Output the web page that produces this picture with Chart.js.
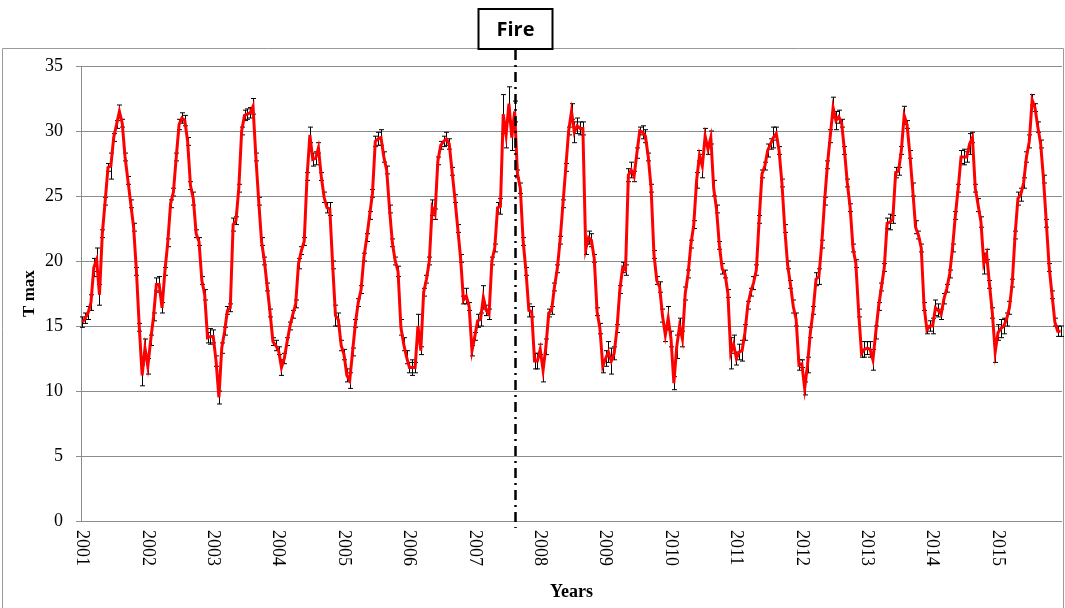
<!DOCTYPE html>
<html>
<head>
<meta charset="utf-8">
<script src="https://cdn.jsdelivr.net/npm/chart.js@4.4.0/dist/chart.umd.min.js"></script>
<style>
  html, body { margin: 0; padding: 0; background: #fff; }
  #wrap { width: 1065px; height: 608px; }
</style>
</head>
<body>
<div id="wrap"><canvas id="tmaxChart" width="1065" height="608"></canvas></div>
<script>
// 23 composites per year (16-day)
var years = [2001, 2002, 2003, 2004, 2005, 2006, 2007, 2008, 2009, 2010, 2011, 2012, 2013, 2014, 2015];

var t2001 = [15.3,15.6,16.0,16.8,19.5,20.1,17.4,22.1,24.6,27.2,27.3,29.5,30.5,31.5,30.6,28.0,26.2,24.4,22.6,19.2,14.9,11.2,13.3];
var t2002 = [11.9,13.9,15.7,18.2,18.2,16.4,19.2,21.4,24.4,25.3,28.0,30.5,31.0,30.8,29.2,25.8,24.8,22.1,21.5,18.5,17.4,14.1,14.2];
var t2003 = [14.2,12.3,9.5,13.3,14.6,16.2,16.4,22.8,23.1,25.6,30.0,31.2,31.3,31.4,31.9,28.0,24.6,21.5,20.0,18.0,16.0,13.8,13.5];
var t2004 = [13.1,11.8,12.5,13.8,15.0,15.9,16.7,19.8,20.8,21.5,26.5,29.7,27.8,27.9,28.7,26.5,24.9,24.1,24.0,19.7,15.8,15.5,13.5];
var t2005 = [12.8,11.2,10.8,13.0,15.2,16.8,17.8,20.3,21.8,23.5,25.2,29.2,29.4,29.5,28.0,27.0,24.0,21.4,20.0,19.2,14.9,13.6,12.6];
var t2006 = [11.8,11.8,11.8,15.0,13.1,17.6,18.6,20.0,24.1,23.6,27.7,28.9,29.2,29.4,29.0,26.9,24.8,22.5,20.2,17.0,17.3,16.5,13.1];
var t2007 = [14.2,15.4,15.5,17.2,16.2,15.9,20.0,21.0,24.1,24.2,31.3,29.7,32.1,29.5,31.5,26.7,25.6,21.5,19.2,16.2,16.1,12.3,12.3];
var t2008 = [13.2,11.6,13.4,16.0,16.2,18.0,19.4,21.6,24.4,27.2,30.0,31.5,29.9,30.4,30.2,30.2,20.9,21.8,21.6,20.2,16.1,14.8,11.9];
var t2009 = [12.5,13.0,12.3,12.9,14.8,17.8,19.5,19.3,26.6,27.0,26.5,28.3,30.0,29.9,29.6,28.0,25.6,20.5,18.5,18.0,15.8,14.3,15.6];
var t2010 = [14.0,10.6,13.4,15.0,14.0,17.5,19.0,21.3,22.8,26.2,28.1,27.3,29.6,28.6,29.5,25.6,24.0,21.2,19.4,19.0,17.5,12.9,13.6];
var t2011 = [12.5,13.0,13.1,14.5,16.6,17.6,18.3,19.3,23.2,26.7,27.3,28.5,29.0,29.5,29.8,28.5,26.0,22.5,19.7,18.2,16.5,15.5,12.0];
var t2012 = [12.1,10.2,12.0,14.5,16.2,18.6,18.8,21.3,24.6,27.4,29.6,31.8,30.8,31.1,30.6,28.5,26.0,24.1,21.0,19.8,16.0,12.9,13.2];
var t2013 = [13.3,13.2,12.4,14.5,16.5,18.0,19.5,22.9,23.0,23.2,26.8,26.9,28.5,31.2,30.5,28.2,25.5,22.6,22.0,21.0,16.5,14.7,15.0];
var t2014 = [15.0,16.4,16.2,15.9,17.1,17.9,19.0,21.0,23.5,25.6,28.0,28.0,28.0,29.0,29.5,25.6,24.3,23.0,19.8,20.5,18.2,16.0,13.0];
var t2015 = [14.5,14.8,15.0,15.5,16.4,18.3,22.0,24.8,25.1,26.0,28.0,29.2,32.4,31.8,30.3,29.0,26.3,22.9,19.5,17.4,15.3,14.6,14.6];

// half-length of the error bars
var e2001 = [0.4,0.4,0.5,0.6,0.7,0.9,0.8,0.3,0.3,0.3,1.0,0.3,0.3,0.5,0.3,0.3,0.3,0.3,0.3,0.3,0.3,0.8,0.7];
var e2002 = [0.6,0.4,0.3,0.5,0.6,0.4,0.3,0.3,0.3,0.3,0.3,0.4,0.4,0.4,0.3,0.3,0.5,0.3,0.3,0.3,0.4,0.4,0.6];
var e2003 = [0.5,0.4,0.5,0.4,0.3,0.3,0.3,0.5,0.3,0.3,0.3,0.4,0.4,0.4,0.6,0.3,0.3,0.3,0.3,0.3,0.3,0.3,0.4];
var e2004 = [0.3,0.6,0.4,0.3,0.3,0.3,0.3,0.4,0.3,0.3,0.3,0.6,0.5,0.5,0.4,0.3,0.4,0.4,0.5,0.3,0.8,0.5,0.4];
var e2005 = [0.4,0.5,0.6,0.3,0.3,0.3,0.3,0.3,0.3,0.3,0.3,0.4,0.5,0.6,0.4,0.3,0.3,0.3,0.3,0.4,0.6,0.5,0.5];
var e2006 = [0.4,0.6,0.4,0.9,0.3,0.3,0.3,0.3,0.6,0.4,0.3,0.3,0.4,0.5,0.4,0.3,0.3,0.3,0.3,0.3,0.6,0.3,0.4];
var e2007 = [0.3,0.5,0.5,0.9,0.4,0.4,0.3,0.3,0.4,0.6,1.5,1.0,1.3,1.0,0.8,0.3,0.4,0.3,0.3,0.5,0.4,0.6,0.6];
var e2008 = [0.4,0.9,0.6,0.3,0.3,0.3,0.3,0.3,0.3,0.3,0.3,0.6,0.8,0.6,0.5,0.5,0.4,0.5,0.5,0.3,0.3,0.4,0.5];
var e2009 = [0.6,0.8,1.0,0.5,0.3,0.3,0.4,0.4,0.5,0.6,0.4,0.4,0.3,0.5,0.5,0.3,0.3,0.3,0.3,0.4,0.5,0.5,0.9];
var e2010 = [0.6,0.5,0.9,0.6,0.6,0.5,0.3,0.3,0.3,0.6,0.4,0.9,0.6,0.4,0.5,0.6,0.3,0.3,0.4,0.3,0.3,1.2,0.7];
var e2011 = [0.5,0.6,0.8,0.6,0.3,0.3,0.5,0.4,0.3,0.3,0.3,0.5,0.4,0.8,0.5,0.3,0.3,0.3,0.3,0.3,0.5,0.5,0.4];
var e2012 = [0.3,0.5,0.6,0.4,0.3,0.5,0.6,0.3,0.3,0.3,0.5,0.8,0.7,0.5,0.3,0.3,0.3,0.3,0.3,0.3,0.3,0.3,0.6];
var e2013 = [0.5,0.6,0.8,0.5,0.3,0.3,0.3,0.4,0.6,0.3,0.4,0.3,0.3,0.7,0.3,0.3,0.5,0.5,0.3,0.3,0.3,0.3,0.4];
var e2014 = [0.6,0.6,0.5,0.4,0.4,0.3,0.3,0.3,0.3,0.3,0.5,0.6,0.4,0.8,0.4,0.3,0.5,0.4,0.8,0.4,0.3,0.4,0.8];
var e2015 = [0.6,0.7,0.6,0.5,0.5,0.3,0.3,0.5,0.5,0.4,0.4,0.5,0.4,0.3,0.4,0.3,0.3,0.3,0.3,0.3,0.3,0.4,0.4];

var yTicks = [0, 5, 10, 15, 20, 25, 30, 35];
var fireYear = 2007.64;
var fireLabel = 'Fire';
var xTitle = 'Years';
var yTitle = 'T max';

var tByYear = [t2001, t2002, t2003, t2004, t2005, t2006, t2007, t2008, t2009, t2010, t2011, t2012, t2013, t2014, t2015];
var eByYear = [e2001, e2002, e2003, e2004, e2005, e2006, e2007, e2008, e2009, e2010, e2011, e2012, e2013, e2014, e2015];

var points = [];
var errs = [];
years.forEach(function(yr, k) {
  tByYear[k].forEach(function(v, i) {
    points.push({ x: yr + (i + 0.5) / tByYear[k].length, y: v });
    errs.push(eByYear[k][i]);
  });
});

var serif = "'Liberation Serif', 'Times New Roman', serif";

var decor = {
  id: 'decor',
  beforeDraw: function(chart) {
    var c = chart.ctx;
    c.save();
    c.strokeStyle = '#9a9a9a';
    c.lineWidth = 1;
    c.beginPath();
    c.moveTo(2.5, 608);
    c.lineTo(2.5, 48.5);
    c.lineTo(1063.5, 48.5);
    c.lineTo(1063.5, 608);
    c.stroke();
    c.restore();
  },
  beforeDatasetsDraw: function(chart) {
    var c = chart.ctx, xs = chart.scales.x, ys = chart.scales.y;
    c.save();
    c.strokeStyle = '#000';
    c.lineWidth = 1;
    c.beginPath();
    points.forEach(function(p, i) {
      var px = Math.round(xs.getPixelForValue(p.x)) + 0.5;
      var top = ys.getPixelForValue(p.y + errs[i]);
      var bot = ys.getPixelForValue(p.y - errs[i]);
      c.moveTo(px, top); c.lineTo(px, bot);
      c.moveTo(px - 2.5, top); c.lineTo(px + 2.5, top);
      c.moveTo(px - 2.5, bot); c.lineTo(px + 2.5, bot);
    });
    c.stroke();
    c.restore();
  },
  afterDraw: function(chart) {
    var c = chart.ctx, xs = chart.scales.x, area = chart.chartArea;
    c.save();
    // year labels, reading top to bottom
    c.fillStyle = '#000';
    c.font = '18px ' + serif;
    c.textAlign = 'left';
    c.textBaseline = 'middle';
    years.forEach(function(yr) {
      c.save();
      c.translate(xs.getPixelForValue(yr) + 1, area.bottom + 9);
      c.rotate(Math.PI / 2);
      c.fillText(String(yr), 0, 0);
      c.restore();
    });
    // axis titles
    c.font = 'bold 18px ' + serif;
    c.textAlign = 'center';
    c.fillText(xTitle, (area.left + area.right) / 2, 592);
    c.save();
    c.translate(30, (area.top + area.bottom) / 2);
    c.rotate(-Math.PI / 2);
    c.font = 'bold 17px ' + serif;
    c.fillText(yTitle, 0, 0);
    c.restore();
    // fire marker
    var fx = Math.round(xs.getPixelForValue(fireYear)) + 0.5;
    c.strokeStyle = '#000';
    c.lineWidth = 2.5;
    c.setLineDash([10, 5, 2, 5]);
    c.beginPath();
    c.moveTo(fx, 50);
    c.lineTo(fx, area.bottom + 7);
    c.stroke();
    c.setLineDash([]);
    c.fillStyle = '#fff';
    c.fillRect(fx - 37, 9, 74, 40);
    c.lineWidth = 2;
    c.strokeRect(fx - 37, 9, 74, 40);
    c.fillStyle = '#000';
    c.font = "bold 20px 'Open Sans', 'Liberation Sans', sans-serif";
    c.textBaseline = 'middle';
    c.fillText(fireLabel, fx, 30);
    c.restore();
  }
};

var ctx = document.getElementById('tmaxChart').getContext('2d');
var tmaxChart = new Chart(ctx, {
  type: 'line',
  data: {
    datasets: [{
      label: yTitle,
      data: points,
      borderColor: '#ff0000',
      borderWidth: 3,
      pointRadius: 0,
      tension: 0,
      fill: false
    }]
  },
  options: {
    responsive: false,
    animation: false,
    layout: { padding: { top: 66, right: 3, left: 0, bottom: 0 } },
    scales: {
      x: {
        type: 'linear',
        min: years[0],
        max: years[years.length - 1] + 1,
        ticks: { display: false },
        grid: { display: false },
        border: { display: false },
        afterFit: function(s) { s.height = 87; }
      },
      y: {
        min: yTicks[0],
        max: yTicks[yTicks.length - 1],
        afterBuildTicks: function(s) { s.ticks = yTicks.map(function(v) { return { value: v }; }); },
        ticks: { color: '#000', padding: 13, font: { family: serif, size: 18 } },
        grid: { color: '#8c8c8c', lineWidth: 1, tickLength: 5 },
        border: { color: '#8c8c8c' },
        afterFit: function(s) { s.width = 81; }
      }
    },
    plugins: {
      legend: { display: false },
      tooltip: { enabled: false }
    }
  },
  plugins: [decor]
});
</script>
</body>
</html>
